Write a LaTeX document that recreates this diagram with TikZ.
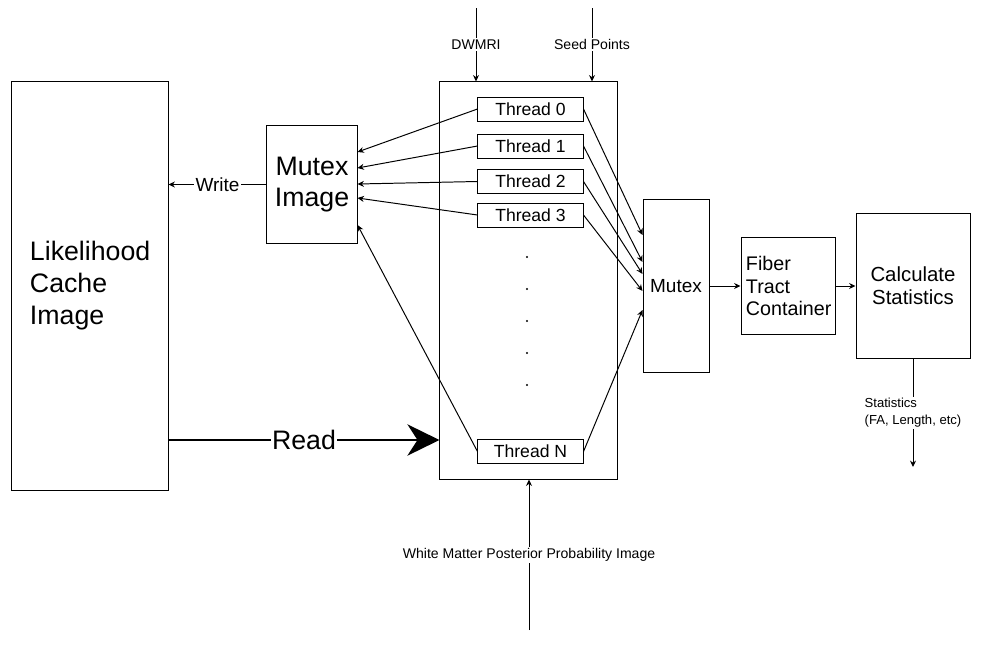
\documentclass[tikz,border=0pt]{standalone}
\usepackage{fontspec}
\setmainfont{Liberation Sans}
\usetikzlibrary{arrows.meta, positioning}
\tikzset{
    box/.style={rectangle, draw=black, line width=0.7pt, inner sep=0pt},
    thread/.style={rectangle, draw=black, line width=0.7pt, minimum width=2.625cm, minimum height=0.6cm, inner sep=0pt, font=\fontsize{12.5}{14}\selectfont},
    arrow/.style={line width=0.7pt, -{Stealth[length=0.16cm, width=0.15cm]}},
    bigarrow/.style={line width=2pt, -{Stealth[length=0.8cm, width=0.78cm, inset=0.25cm]}},
    tag/.style={fill=white, inner sep=1pt, font=\fontsize{10}{12}\selectfont},
    dot/.style={circle, fill=black, minimum size=1.6pt, inner sep=0pt}
}

\begin{document}
\begin{tikzpicture}[x=0.025cm, y=-0.025cm]
    \useasboundingbox (0,0) rectangle (981,651);
    % Cache and mutex image
    \node (cache) [box, minimum width=3.9cm, minimum height=10.2cm, text width=3.0cm, inner xsep=0.45cm, align=left, font=\fontsize{19}{22.7}\selectfont] at (90,286) {Likelihood\\Cache\\Image};
    \node (mutex_img) [box, minimum width=2.25cm, minimum height=2.925cm, align=center, font=\fontsize{19}{21.5}\selectfont] at (312,184.5) {Mutex\\Image};
    % Thread pool
    \node (pool) [box, minimum width=4.425cm, minimum height=9.925cm] at (528.5,280.5) {};
    \node (t0) [thread] at (530.5,109) {Thread 0};
    \node (t1) [thread] at (530.5,146) {Thread 1};
    \node (t2) [thread] at (530.5,181.5) {Thread 2};
    \node (t3) [thread] at (530.5,215) {Thread 3};
    \node (tn) [thread] at (530.5,451.5) {Thread N};
    \foreach \y [count=\i] in {257,289,321,353,385}
        \node (dot\i) [dot] at (527,\y) {};
    % Output chain
    \node (mutex) [box, minimum width=1.65cm, minimum height=4.3cm, font=\fontsize{13.5}{16}\selectfont] at (676,286) {Mutex};
    \node (fiber) [box, minimum width=2.35cm, minimum height=2.4cm, text width=2.1cm, inner xsep=0.125cm, align=left, font=\fontsize{14}{16.3}\selectfont] at (788,286) {Fiber\\Tract\\Container};
    \node (calc) [box, minimum width=2.85cm, minimum height=3.6cm, align=center, font=\fontsize{14.5}{16.3}\selectfont] at (913,286) {Calculate\\Statistics};
    % Free ends
    \coordinate (dwmri_in) at (476,8);
    \coordinate (seed_in) at (592,8);
    \coordinate (wm_in) at (529,630);
    \coordinate (stats_out) at (913,467);
    % Arrows
    \draw [arrow] (dwmri_in) -- node[tag] {DWMRI} (dwmri_in |- pool.north);
    \draw [arrow] (seed_in) -- node[tag] {Seed Points} (seed_in |- pool.north);
    \draw [arrow] (wm_in) -- node[tag] {White Matter Posterior Probability Image} (wm_in |- pool.south);
    \draw [arrow] (mutex_img.west) -- node[tag, font=\fontsize{13.5}{16}\selectfont] {Write} (mutex_img.west -| cache.east);
    \draw [bigarrow] (cache.east |- 0,440) -- node[tag, font=\fontsize{19}{22}\selectfont] {Read} (pool.west |- 0,440);
    \foreach \t/\a/\b in {t0/152/235, t1/168/262, t2/184/274, t3/198/291, tn/225/310} {
        \draw [arrow] (\t.west) -- (mutex_img.east |- 0,\a);
        \draw [arrow] (\t.east) -- (mutex.west |- 0,\b);
    }
    \draw [arrow] (mutex) -- (fiber);
    \draw [arrow] (fiber) -- (calc);
    \draw [arrow] (calc.south) -- node[tag, align=left, font=\fontsize{9.3}{12}\selectfont] {Statistics\\(FA, Length, etc)} (stats_out);
\end{tikzpicture}
\end{document}
